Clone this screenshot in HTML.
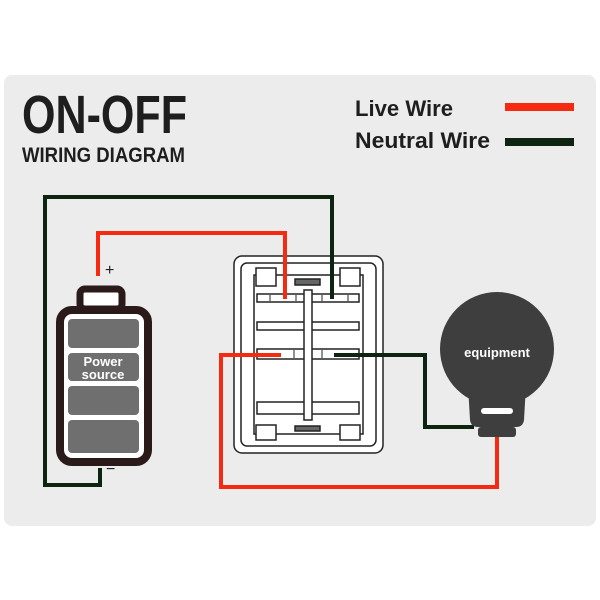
<!DOCTYPE html>
<html><head><style>html,body{margin:0;padding:0;background:#fff}svg{display:block}</style></head>
<body>
<svg width="600" height="600" viewBox="0 0 600 600" xmlns="http://www.w3.org/2000/svg" font-family="'Liberation Sans Narrow','Liberation Sans',sans-serif">
<rect x="4" y="75" width="592" height="451" rx="8" fill="#ececec"/>
<text x="22" y="133" font-size="54" font-weight="bold" fill="#1e1e1e" textLength="165" lengthAdjust="spacingAndGlyphs">ON-OFF</text>
<text x="22" y="162" font-size="21" font-weight="bold" fill="#1e1e1e" textLength="163" lengthAdjust="spacingAndGlyphs">WIRING DIAGRAM</text>
<text x="355" y="116" font-size="22" font-weight="bold" fill="#1e1e1e" textLength="98" lengthAdjust="spacingAndGlyphs">Live Wire</text>
<text x="355" y="148" font-size="22" font-weight="bold" fill="#1e1e1e" textLength="135" lengthAdjust="spacingAndGlyphs">Neutral Wire</text>
<rect x="505" y="103" width="69" height="8" fill="#f52a10"/>
<rect x="505" y="138" width="69" height="8" fill="#0c2410"/>
<!-- switch -->
<g fill="#fff" stroke="#222" stroke-width="1.5">
<rect x="234" y="256" width="149" height="197" rx="8"/>
<rect x="241" y="263" width="135" height="183" rx="6"/>
<rect x="254" y="275" width="109" height="159"/>
<rect x="256" y="268" width="20" height="18"/>
<rect x="340" y="268" width="20" height="18"/>
<rect x="256" y="425" width="20" height="15"/>
<rect x="340" y="425" width="20" height="15"/>
<rect x="295" y="279" width="25" height="6" fill="#666"/>
<rect x="295" y="426" width="25" height="5" fill="#666"/>
<rect x="257" y="294" width="102" height="8"/>
<rect x="257" y="322" width="102" height="8"/>
<rect x="257" y="349" width="102" height="10"/>
<rect x="257" y="402" width="102" height="12"/>
<rect x="304" y="290" width="8" height="130"/>
</g>
<g stroke="#222" stroke-width="1">
<line x1="270" y1="295" x2="270" y2="301"/><line x1="296" y1="295" x2="296" y2="301"/>
<line x1="322" y1="295" x2="322" y2="301"/><line x1="348" y1="295" x2="348" y2="301"/>
<line x1="294" y1="350" x2="294" y2="358"/><line x1="322" y1="350" x2="322" y2="358"/>
</g>
<g fill="none" stroke-width="4">
<polyline points="100,468 100,485 45,485 45,197 332,197 332,299" stroke="#0c2410"/>
<polyline points="98,276 98,233 285,233 285,299" stroke="#f52a10"/>
<polyline points="281,355 221,355 221,487 497,487 497,436" stroke="#f52a10"/>
<polyline points="334,355 425,355 425,427 474,427" stroke="#0c2410"/>
</g>
<text x="105" y="275" font-size="16" fill="#222">+</text>
<text x="106" y="474" font-size="16" fill="#222">−</text>
<!-- battery -->
<rect x="80" y="289" width="42" height="20" rx="5" fill="#fff" stroke="#2a1a1a" stroke-width="7"/>
<rect x="60" y="310" width="88" height="152" rx="12" fill="#fff" stroke="#2a1a1a" stroke-width="8"/>
<g fill="#6f6f6f">
<rect x="68" y="319" width="71" height="29" rx="4"/>
<rect x="68" y="353" width="71" height="28" rx="4"/>
<rect x="68" y="386" width="71" height="29" rx="4"/>
<rect x="68" y="420" width="71" height="33" rx="4"/>
</g>
<text x="103" y="366" font-size="13" font-weight="bold" fill="#fff" text-anchor="middle" font-family="'Liberation Sans',sans-serif">Power</text>
<text x="103" y="379" font-size="13" font-weight="bold" fill="#fff" text-anchor="middle" font-family="'Liberation Sans',sans-serif">source</text>
<!-- equipment -->
<circle cx="497" cy="349" r="57" fill="#3e3e3e"/>
<path d="M468 385 L526 385 L524 420 Q523 427 516 427 L478 427 Q471 427 470 420 Z" fill="#3e3e3e"/>
<rect x="478" y="427" width="38" height="10" rx="3" fill="#3e3e3e"/>
<rect x="481" y="408" width="32" height="6" rx="3" fill="#fff"/>
<text x="497" y="357" font-size="13" font-weight="bold" fill="#fff" text-anchor="middle" font-family="'Liberation Sans',sans-serif">equipment</text>
</svg>
</body></html>
